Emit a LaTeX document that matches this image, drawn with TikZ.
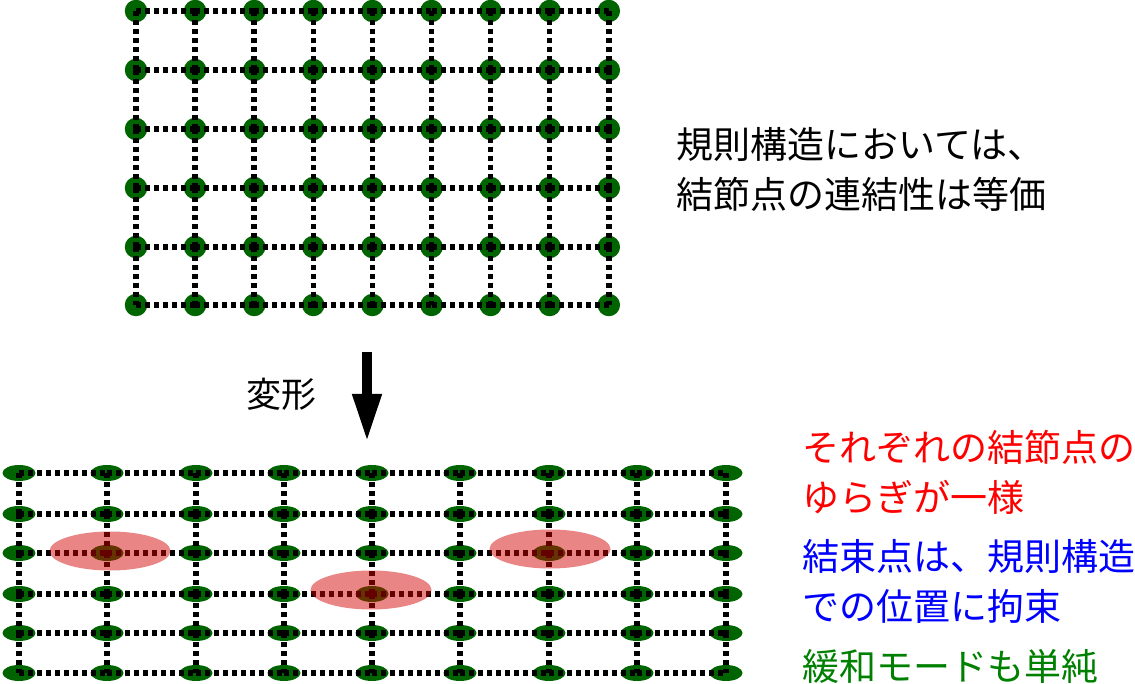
\documentclass[tikz,border=0pt]{standalone}
\usepackage{fontspec}
\setmainfont{Noto Sans CJK JP}
\usetikzlibrary{arrows.meta,calc,shapes.geometric}
\definecolor{gdNode}{HTML}{006400}
\definecolor{gdRed}{HTML}{FF0000}
\definecolor{gdBlue}{HTML}{0000FF}
\definecolor{gdGreen}{HTML}{008000}
\definecolor{gdHalo}{HTML}{D20000}
\tikzset{
  gd site/.style={circle, fill=gdNode, minimum size=22.5pt, inner sep=0pt},
  gd blob/.style={ellipse, fill=gdNode, minimum width=33pt, minimum height=16pt, inner sep=0pt},
  gd bond/.style={draw=black, line width=5.5pt, dash pattern=on 5pt off 4pt},
  gd halo/.style={fill=gdHalo, fill opacity=.48},
  gd arrow/.style={draw=black, line width=10pt, -{Triangle[length=48pt,width=27pt]}},
  gd text/.style={font=\fontsize{37}{50}\selectfont, align=left, anchor=west, inner sep=0pt}
}
\begin{document}
\begin{tikzpicture}[x=1pt,y=-1pt]
  \useasboundingbox (0,0) rectangle (1135,684);

  % regular lattice
  \foreach \x [count=\i] in {136,195.1,254.2,313.3,372.4,431.5,490.6,549.7,608.8}
    \foreach \y [count=\j] in {11,70,129,188,247,305}
      \node[gd site] (t-\i-\j) at (\x,\y) {};
  \foreach \i in {1,...,9}
    \foreach \j [count=\k from 2] in {1,...,5}
      \draw[gd bond] (t-\i-\j.center) -- (t-\i-\k.center);
  \foreach \j in {1,...,6}
    \foreach \i [count=\k from 2] in {1,...,8}
      \draw[gd bond] (t-\i-\j.center) -- (t-\k-\j.center);

  \node[gd text] (rule) at (676,169) {規則構造においては、\\結節点の連結性は等価};

  % deformation
  \coordinate (arr-top) at (367,352);
  \coordinate (arr-tip) at (367,442);
  \draw[gd arrow] (arr-top) -- (arr-tip);
  \node[font=\fontsize{35}{40}\selectfont, inner sep=0pt] (deform) at (281,394) {変形};

  % deformed lattice
  \foreach \x [count=\i] in {19,107,196,284,372,460,549,637,726}
    \foreach \y [count=\j] in {473,514,553,594,633,673}
      \node[gd blob] (b-\i-\j) at (\x,\y) {};
  \foreach \i in {1,...,9}
    \foreach \j [count=\k from 2] in {1,...,5}
      \draw[gd bond] (b-\i-\j.center) -- (b-\i-\k.center);
  \foreach \j in {1,...,6}
    \foreach \i [count=\k from 2] in {1,...,8}
      \draw[gd bond] (b-\i-\j.center) -- (b-\k-\j.center);

  % bound sites
  \fill[gd halo] ($(b-2-3)+(3,-2)$) ellipse [x radius=60.5, y radius=19.5];
  \fill[gd halo] ($(b-5-4)+(-1,-4)$) ellipse [x radius=60.5, y radius=19.5];
  \fill[gd halo] ($(b-7-3)+(1,-4)$) ellipse [x radius=60.5, y radius=19.5];

  \node[gd text, text=gdRed] (fluct) at (802,472) {それぞれの結節点の\\ゆらぎが一様};
  \node[gd text, text=gdBlue] (bound) at (802,581) {結束点は、規則構造\\での位置に拘束};
  \node[gd text, text=gdGreen] (relax) at (802,666) {緩和モードも単純};
\end{tikzpicture}
\end{document}
